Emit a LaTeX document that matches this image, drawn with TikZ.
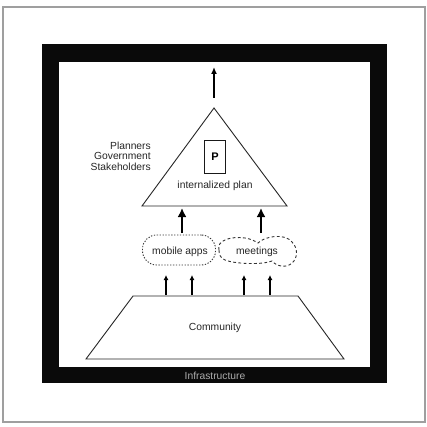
\documentclass[tikz,border=0pt]{standalone}
\usepackage{fontspec}
\setmainfont{Liberation Sans}
\usetikzlibrary{arrows.meta}
\begin{document}
\begin{tikzpicture}[x=1pt,y=-1pt,
  font=\fontsize{10.3}{10.5}\selectfont,
  shapeline/.style={draw=black!85, line width=0.9pt},
  bigarrow/.style={line width=2.6pt, -{Latex[length=9pt,width=9pt]}},
  smallarrow/.style={line width=1.3pt, -{Latex[length=5pt,width=5pt]}},
  toparrow/.style={line width=1.5pt, -{Latex[length=7pt,width=6pt]}},
  lbl/.style={inner sep=0pt, text=black!85}]
\useasboundingbox (0,0) rectangle (427,427);
% outer frame
\draw[gray!75, line width=1.2pt] (3,7) rectangle (425,422);
% infrastructure frame
\fill[black!96] (42,44) rectangle (387,383);
\fill[white] (59,62) rectangle (370,367);
\node[lbl, text=gray!65] (infra) at (215,376) {Infrastructure};
% triangle
\coordinate (tA) at (214,108);
\coordinate (tL) at (142,206);
\coordinate (tR) at (287,206);
\draw[shapeline] (tA) -- (tL) -- (tR) -- cycle;
\node[draw=black!90, line width=1.3pt, minimum width=21pt, minimum height=33pt, inner sep=0pt, font=\fontsize{11}{11}\selectfont\bfseries] (pbox) at (215,157) {P};
\node[lbl] (plan) at (215,186) {internalized plan};
\node[lbl, align=right, anchor=east] (actors) at (151,156) {Planners\\Government\\Stakeholders};
% top arrow
\coordinate (topS) at (214,98);
\coordinate (topE) at (214,67);
\draw[toparrow] (topS) -- (topE);
% clouds
\node[draw=black!80, line width=0.9pt, dash pattern=on 1.3pt off 1.6pt, rounded corners=14pt, minimum width=73pt, minimum height=30pt, inner sep=0pt] (mobile) at (179,250) {};
\node[lbl] (mobiletxt) at (180,252) {mobile apps};
\node[lbl] (meet) at (257,252) {meetings};
\draw[draw=black!80, line width=0.9pt, dash pattern=on 2.8pt off 2.4pt]
  (219,250) .. controls (216,240) and (232,236) .. (245,238)
  .. controls (251,239) and (255,241) .. (258,243)
  .. controls (265,236) and (285,233) .. (292,242)
  .. controls (298,248) and (298,258) .. (292,263)
  .. controls (287,268) and (277,267) .. (272,261)
  .. controls (262,265) and (235,264) .. (225,260)
  .. controls (220,258) and (219,254) .. (219,250) -- cycle;
% big arrows
\coordinate (b1s) at (182,233);
\coordinate (b1e) at (182,208);
\coordinate (b2s) at (261,233);
\coordinate (b2e) at (261,208);
\draw[bigarrow] (b1s) -- (b1e);
\draw[bigarrow] (b2s) -- (b2e);
% trapezoid
\coordinate (qTL) at (133,296);
\coordinate (qTR) at (298,296);
\coordinate (qBR) at (344,359);
\coordinate (qBL) at (86,359);
\draw[shapeline] (qTL) -- (qTR) -- (qBR) -- (qBL) -- cycle;
\node[lbl] (comm) at (215,328) {Community};
% small arrows
\foreach \x [count=\i] in {166,192,244,270}{
  \coordinate (s\i s) at (\x,295);
  \coordinate (s\i e) at (\x,275);
  \draw[smallarrow] (s\i s) -- (s\i e);
}
\end{tikzpicture}
\end{document}
